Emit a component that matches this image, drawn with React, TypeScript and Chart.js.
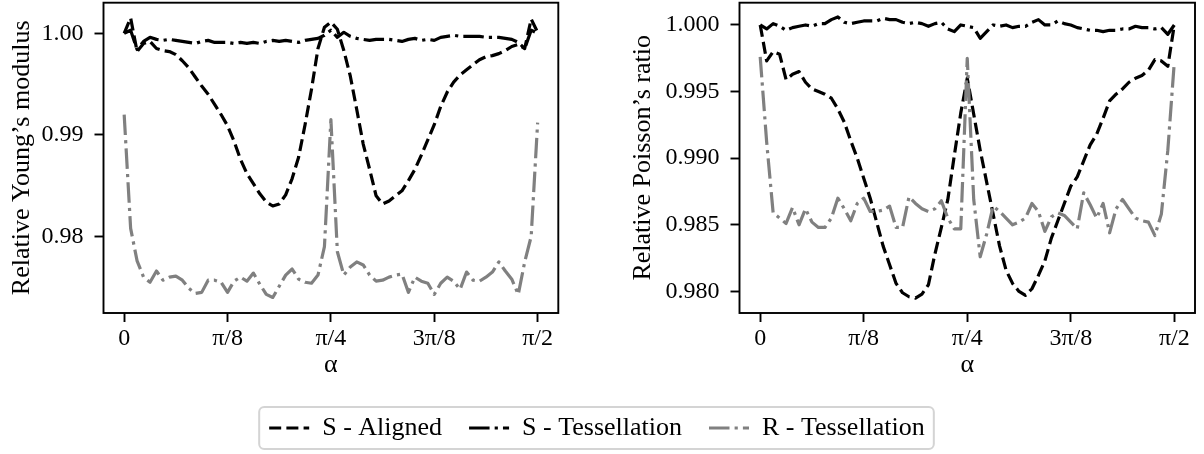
import React, { useEffect, useRef } from 'react';
import { Chart, registerables } from 'chart.js';

Chart.register(...registerables);

const FONT = "'Liberation Serif', 'Times New Roman', serif";

// sample angles: 65 evenly spaced samples from 0 to pi/2 (grid, not series values)
const alpha: number[] = Array.from({ length: 65 }, (_, i) => (i * Math.PI) / 128);

const xTickValues = [0, Math.PI / 8, Math.PI / 4, (3 * Math.PI) / 8, Math.PI / 2];
const xTickLabels = ['0', 'π/8', 'π/4', '3π/8', 'π/2'];

const youngTicks = [0.98, 0.99, 1.0];
const poissonTicks = [0.98, 0.985, 0.99, 0.995, 1.0];

const seriesLabels = ['S - Aligned', 'S - Tessellation', 'R - Tessellation'];

// Relative Young's modulus
const youngSAligned = [
  1.0000, 1.0015, 0.9982, 0.9990, 0.9992, 0.9985, 0.9983, 0.9982, 0.9979, 0.9973,
  0.9966, 0.9957, 0.9948, 0.9940, 0.9930, 0.9920, 0.9909, 0.9894, 0.9876, 0.9862,
  0.9852, 0.9842, 0.9834, 0.9830, 0.9832, 0.9841, 0.9857, 0.9878, 0.9910, 0.9945,
  0.9985, 1.0006, 1.0011, 1.0004, 0.9983, 0.9958, 0.9925, 0.9891, 0.9866, 0.9840,
  0.9832, 0.9835, 0.9840, 0.9845, 0.9855, 0.9866, 0.9880, 0.9895, 0.9910, 0.9928,
  0.9942, 0.9952, 0.9959, 0.9964, 0.9969, 0.9974, 0.9977, 0.9978, 0.9980, 0.9983,
  0.9987, 0.9989, 0.9985, 1.0014, 1.0001,
];
const youngSTess = [
  1.0000, 1.0003, 0.9984, 0.9992, 0.9996, 0.9994, 0.9993, 0.9994, 0.9993, 0.9992,
  0.9991, 0.9990, 0.9992, 0.9993, 0.9991, 0.9991, 0.9991, 0.9990, 0.9991, 0.9990,
  0.9991, 0.9990, 0.9992, 0.9993, 0.9992, 0.9993, 0.9992, 0.9991, 0.9993, 0.9994,
  0.9995, 0.9998, 1.0003, 0.9996, 1.0001, 0.9997, 0.9995, 0.9994, 0.9993, 0.9994,
  0.9994, 0.9994, 0.9993, 0.9992, 0.9994, 0.9995, 0.9993, 0.9994, 0.9993, 0.9996,
  0.9997, 0.9998, 0.9997, 0.9997, 0.9997, 0.9997, 0.9996, 0.9996, 0.9996, 0.9995,
  0.9994, 0.9991, 0.9985, 1.0003, 1.0000,
];
const youngRTess = [
  0.9920, 0.9808, 0.9776, 0.9760, 0.9755, 0.9766, 0.9757, 0.9760, 0.9761, 0.9757,
  0.9749, 0.9744, 0.9745, 0.9757, 0.9757, 0.9755, 0.9745, 0.9756, 0.9760, 0.9756,
  0.9764, 0.9753, 0.9743, 0.9740, 0.9751, 0.9762, 0.9768, 0.9758, 0.9755, 0.9754,
  0.9762, 0.9790, 0.9915, 0.9785, 0.9762, 0.9770, 0.9775, 0.9772, 0.9762, 0.9756,
  0.9757, 0.9760, 0.9762, 0.9763, 0.9745, 0.9760, 0.9756, 0.9754, 0.9743, 0.9754,
  0.9760, 0.9756, 0.9748, 0.9765, 0.9757, 0.9756, 0.9760, 0.9765, 0.9775, 0.9766,
  0.9758, 0.9743, 0.9775, 0.9800, 0.9912,
];

// Relative Poisson's ratio
const poissonSAligned = [
  1.0000, 0.9973, 0.9980, 0.9978, 0.9959, 0.9963, 0.9965, 0.9957, 0.9952, 0.9950,
  0.9948, 0.9945, 0.9937, 0.9927, 0.9913, 0.9900, 0.9885, 0.9870, 0.9852, 0.9834,
  0.9820, 0.9806, 0.9799, 0.9796, 0.9795, 0.9798, 0.9805, 0.9828, 0.9848, 0.9869,
  0.9902, 0.9934, 0.9960, 0.9933, 0.9906, 0.9882, 0.9858, 0.9834, 0.9816, 0.9806,
  0.9800, 0.9797, 0.9802, 0.9812, 0.9823, 0.9840, 0.9853, 0.9866, 0.9879, 0.9886,
  0.9898, 0.9910, 0.9918, 0.9930, 0.9943, 0.9948, 0.9952, 0.9957, 0.9960, 0.9962,
  0.9966, 0.9974, 0.9973, 0.9969, 1.0000,
];
const poissonSTess = [
  1.0000, 0.9997, 1.0001, 0.9999, 0.9996, 0.9998, 0.9999, 1.0000, 0.9999, 1.0001,
  1.0001, 1.0004, 1.0006, 1.0002, 1.0001, 1.0002, 1.0003, 1.0003, 1.0003, 1.0005,
  1.0004, 1.0004, 1.0002, 1.0001, 1.0002, 1.0001, 0.9999, 1.0001, 1.0002, 0.9997,
  0.9995, 1.0000, 0.9999, 0.9998, 0.9990, 0.9995, 1.0000, 0.9999, 1.0000, 0.9998,
  0.9999, 0.9999, 1.0002, 1.0004, 1.0000, 1.0000, 1.0003, 1.0001, 1.0000, 0.9998,
  0.9997, 0.9996, 0.9996, 0.9995, 0.9996, 0.9996, 0.9997, 0.9997, 0.9999, 0.9998,
  0.9998, 0.9997, 0.9998, 0.9993, 1.0000,
];
const poissonRTess = [
  0.9976, 0.9912, 0.9859, 0.9855, 0.9851, 0.9863, 0.9850, 0.9862, 0.9852, 0.9848,
  0.9848, 0.9855, 0.9870, 0.9862, 0.9853, 0.9866, 0.9870, 0.9860, 0.9860, 0.9861,
  0.9864, 0.9848, 0.9848, 0.9871, 0.9866, 0.9862, 0.9860, 0.9862, 0.9868, 0.9855,
  0.9847, 0.9847, 0.9975, 0.9869, 0.9826, 0.9843, 0.9864, 0.9860, 0.9855, 0.9850,
  0.9852, 0.9855, 0.9866, 0.9860, 0.9845, 0.9856, 0.9859, 0.9857, 0.9852, 0.9847,
  0.9874, 0.9865, 0.9855, 0.9866, 0.9844, 0.9862, 0.9869, 0.9862, 0.9855, 0.9853,
  0.9852, 0.9842, 0.9858, 0.9906, 0.9972,
];

const seriesColors = ['#000000', '#000000', '#808080'];
const LW = 3.2;
const seriesDash = [
  [12, 5.2],
  [20.5, 5.1, 3.2, 5.1],
  [20.5, 5.1, 3.2, 5.1],
];

const framePlugin = {
  id: 'frame',
  afterDatasetsDraw(chart: any) {
    const { ctx, chartArea } = chart;
    const { left, top, right, bottom } = chartArea;
    ctx.save();
    ctx.strokeStyle = '#000';
    ctx.lineWidth = 1.9;
    ctx.setLineDash([]);
    ctx.strokeRect(left, top, right - left, bottom - top);
    ctx.restore();
  },
};

const legendFramePlugin = {
  id: 'legendFrame',
  afterDraw(chart: any) {
    const hb = chart.legend && chart.legend.legendHitBoxes;
    if (!hb || !hb.length) return;
    const first = hb[0];
    const last = hb[hb.length - 1];
    const x1 = first.left - 10;
    const x2 = last.left + last.width + 9;
    const cy = first.top + first.height / 2;
    const y1 = cy - 21;
    const y2 = cy + 21;
    const r = 5;
    const { ctx } = chart;
    ctx.save();
    ctx.strokeStyle = '#d4d4d4';
    ctx.lineWidth = 2;
    ctx.setLineDash([]);
    ctx.beginPath();
    ctx.moveTo(x1 + r, y1);
    ctx.lineTo(x2 - r, y1);
    ctx.arcTo(x2, y1, x2, y1 + r, r);
    ctx.lineTo(x2, y2 - r);
    ctx.arcTo(x2, y2, x2 - r, y2, r);
    ctx.lineTo(x1 + r, y2);
    ctx.arcTo(x1, y2, x1, y2 - r, r);
    ctx.lineTo(x1, y1 + r);
    ctx.arcTo(x1, y1, x1 + r, y1, r);
    ctx.closePath();
    ctx.stroke();
    ctx.restore();
  },
};

function plotConfig(
  series: number[][],
  yMin: number,
  yMax: number,
  yTicks: number[],
  decimals: number,
  yTitle: string,
  yAxisWidth: number,
  padRight: number,
  yTitlePad: number
): any {
  return {
    type: 'line',
    data: {
      datasets: series.map((vals, k) => ({
        label: seriesLabels[k],
        data: vals.map((v, i) => ({ x: alpha[i], y: v })),
        borderColor: seriesColors[k],
        backgroundColor: seriesColors[k],
        borderWidth: LW,
        borderDash: seriesDash[k],
        borderCapStyle: 'butt',
        borderJoinStyle: 'round',
        pointRadius: 0,
        pointHoverRadius: 0,
        tension: 0,
        fill: false,
        order: 2 - k,
      })),
    },
    options: {
      responsive: false,
      animation: false,
      events: [],
      layout: { padding: { left: 0, top: 2.7, right: padRight, bottom: 0 } },
      plugins: { legend: { display: false }, tooltip: { enabled: false } },
      scales: {
        x: {
          type: 'linear',
          min: -Math.PI / 40,
          max: Math.PI / 2 + Math.PI / 40,
          afterBuildTicks: (s: any) => {
            s.ticks = xTickValues.map((v) => ({ value: v }));
          },
          afterFit: (s: any) => {
            s.height = 87;
            s.paddingLeft = 0;
            s.paddingRight = 0;
          },
          ticks: {
            callback: (_v: any, i: number) => xTickLabels[i],
            font: { family: FONT, size: 24 },
            color: '#000',
            padding: 2,
            maxRotation: 0,
            minRotation: 0,
            autoSkip: false,
          },
          grid: {
            display: true,
            drawOnChartArea: false,
            drawTicks: true,
            tickLength: 9,
            tickWidth: 1.9,
            tickColor: '#000',
          },
          border: { display: false },
          title: {
            display: true,
            text: 'α',
            font: { family: FONT, size: 26 },
            color: '#000',
            padding: { top: 0, bottom: 19 },
          },
        },
        y: {
          type: 'linear',
          min: yMin,
          max: yMax,
          afterBuildTicks: (s: any) => {
            s.ticks = yTicks.map((v) => ({ value: v }));
          },
          afterFit: (s: any) => {
            s.width = yAxisWidth;
            s.paddingTop = 0;
            s.paddingBottom = 0;
          },
          ticks: {
            callback: (v: any) => Number(v).toFixed(decimals),
            font: { family: FONT, size: 24 },
            color: '#000',
            padding: 11,
            autoSkip: false,
          },
          grid: {
            display: true,
            drawOnChartArea: false,
            drawTicks: true,
            tickLength: 9,
            tickWidth: 1.9,
            tickColor: '#000',
          },
          border: { display: false },
          title: {
            display: true,
            text: yTitle,
            font: { family: FONT, size: 26 },
            color: '#000',
            padding: { top: yTitlePad, bottom: 0 },
          },
        },
      },
    },
    plugins: [framePlugin],
  };
}

function legendConfig(): any {
  return {
    type: 'line',
    data: {
      datasets: seriesLabels.map((l, k) => ({
        label: l,
        data: [],
        borderColor: seriesColors[k],
        backgroundColor: seriesColors[k],
        borderWidth: LW,
        borderDash: seriesDash[k],
      })),
    },
    options: {
      responsive: false,
      animation: false,
      events: [],
      layout: { padding: { left: 0, right: 10, top: 0, bottom: 0 } },
      scales: { x: { display: false }, y: { display: false } },
      plugins: {
        tooltip: { enabled: false },
        legend: {
          display: true,
          position: 'top',
          align: 'center',
          maxHeight: 300,
          labels: {
            usePointStyle: true,
            pointStyle: 'line',
            pointStyleWidth: 40,
            boxHeight: 10,
            padding: 27,
            color: '#000',
            font: { family: FONT, size: 26 },
            generateLabels: (chart: any) =>
              chart.data.datasets.map((ds: any, i: number) => ({
                text: ds.label,
                fillStyle: 'rgba(0,0,0,0)',
                strokeStyle: ds.borderColor,
                lineWidth: ds.borderWidth,
                lineDash: ds.borderDash,
                lineCap: 'butt',
                lineJoin: 'miter',
                pointStyle: 'line',
                hidden: false,
                datasetIndex: i,
                fontColor: '#000',
              })),
          },
        },
      },
    },
    plugins: [legendFramePlugin],
  };
}

export default function App() {
  const leftRef = useRef<HTMLCanvasElement | null>(null);
  const rightRef = useRef<HTMLCanvasElement | null>(null);
  const legendRef = useRef<HTMLCanvasElement | null>(null);

  useEffect(() => {
    Chart.defaults.font.family = FONT;
    Chart.defaults.color = '#000';
    const charts: Chart[] = [];
    if (leftRef.current) {
      charts.push(
        new Chart(
          leftRef.current,
          plotConfig(
            [youngSAligned, youngSTess, youngRTess],
            0.97247,
            1.00301,
            youngTicks,
            2,
            'Relative Young’s modulus',
            103.5,
            41.7,
            6.4
          )
        )
      );
    }
    if (rightRef.current) {
      charts.push(
        new Chart(
          rightRef.current,
          plotConfig(
            [poissonSAligned, poissonSTess, poissonRTess],
            0.97838,
            1.00167,
            poissonTicks,
            3,
            'Relative Poisson’s ratio',
            139.5,
            9,
            27.4
          )
        )
      );
    }
    if (legendRef.current) {
      charts.push(new Chart(legendRef.current, legendConfig()));
    }
    return () => {
      charts.forEach((c) => c.destroy());
    };
  }, []);

  return (
    <div
      style={{
        position: 'absolute',
        left: 0,
        top: 0,
        width: 1204,
        height: 454,
        background: '#ffffff',
        overflow: 'hidden',
      }}
    >
      <canvas
        ref={leftRef}
        width={600}
        height={400}
        style={{ position: 'absolute', left: 0, top: 0, width: 600, height: 400 }}
      />
      <canvas
        ref={rightRef}
        width={604}
        height={400}
        style={{ position: 'absolute', left: 600, top: 0, width: 604, height: 400 }}
      />
      <canvas
        ref={legendRef}
        width={1204}
        height={66}
        style={{ position: 'absolute', left: 0, top: 388, width: 1204, height: 66 }}
      />
    </div>
  );
}
